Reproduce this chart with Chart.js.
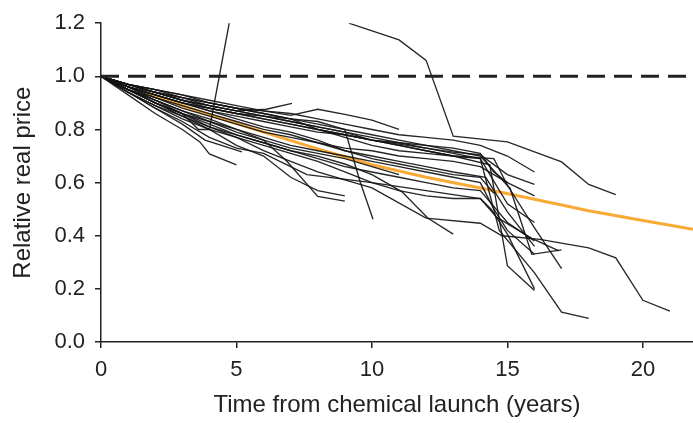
<!DOCTYPE html>
<html>
<head>
<meta charset="utf-8">
<script src="https://cdn.jsdelivr.net/npm/chart.js@4.4.1/dist/chart.umd.min.js"></script>
<style>
  html, body { margin: 0; padding: 0; background: #fff; }
  #wrap { width: 693px; height: 423px; }
</style>
</head>
<body>
<div id="wrap"><canvas id="myChart" width="693" height="423"></canvas></div>
<script>
// axis ticks
var xTicks = [0, 5, 10, 15, 20];
var yTicks = [0, 0.2, 0.4, 0.6, 0.8, 1.0, 1.2];
var xMax = 21.85;

// reference level (launch price) and fitted trend
var launchLevel = [[0, 1.0], [21.85, 1.0]];
var trend = [[1.3, 0.947], [2, 0.925], [4, 0.855], [6, 0.79], [8, 0.727], [10, 0.667], [12, 0.62], [14, 0.58], [16, 0.537], [18, 0.494], [20, 0.457], [21.85, 0.424]];

// individual chemicals (years since launch, relative real price)
var chem01 = [[0, 1], [1, 0.95], [2, 0.91], [3, 0.86], [3.6, 0.80], [4, 0.80], [4.75, 1.21]];
var chem02 = [[9.15, 1.2], [11, 1.137], [12, 1.06], [13, 0.775], [15, 0.753], [17, 0.678], [18, 0.593], [19, 0.555]];
var chem03 = [[0, 1], [1, 0.95], [2, 0.9], [3, 0.86], [4, 0.81], [5, 0.77], [6, 0.72], [7, 0.68], [8, 0.64], [9, 0.61], [10, 0.58], [12, 0.466], [14, 0.447], [14.8, 0.40], [16.2, 0.386], [18, 0.354], [19, 0.317], [20, 0.157], [21, 0.116]];
var chem04 = [[0, 1], [1, 0.97], [2, 0.94], [3, 0.92], [4, 0.89], [5, 0.87], [6, 0.85], [7, 0.83], [8, 0.81], [9, 0.79], [10, 0.77], [11, 0.75], [12, 0.73], [13, 0.71], [14, 0.69], [14.7, 0.42], [16, 0.26], [17, 0.112], [18, 0.089]];
var chem05 = [[0, 1], [1, 0.96], [2, 0.93], [3, 0.90], [4, 0.88], [5, 0.86], [6, 0.84], [7, 0.82], [8, 0.80], [9, 0.78], [10, 0.76], [11, 0.74], [12, 0.72], [13, 0.70], [14.35, 0.667], [15, 0.287], [16, 0.194]];
var chem06 = [[0, 1], [1, 0.97], [2, 0.95], [3, 0.92], [4, 0.9], [5, 0.88], [6, 0.86], [7, 0.84], [8, 0.82], [9, 0.8], [10, 0.78], [11, 0.76], [12, 0.74], [13, 0.72], [14, 0.7], [15.1, 0.578], [15.9, 0.33], [17, 0.347]];
var chem07 = [[0, 1], [1, 0.96], [2, 0.94], [3, 0.91], [4, 0.89], [5, 0.87], [6, 0.85], [7, 0.83], [8, 0.81], [9, 0.79], [10, 0.76], [11, 0.74], [12, 0.72], [13, 0.70], [14.5, 0.69], [15, 0.59], [16, 0.43], [17, 0.276]];
var chem08 = [[0, 1], [1, 0.97], [2, 0.94], [3, 0.92], [4, 0.9], [5, 0.88], [6, 0.86], [7, 0.84], [8, 0.8], [9, 0.78], [10, 0.76], [11, 0.745], [12, 0.73], [13, 0.715], [14, 0.705], [15, 0.63], [16, 0.593]];
var chem09 = [[0, 1], [1, 0.95], [2, 0.9], [3, 0.86], [4, 0.82], [5, 0.78], [6, 0.75], [7, 0.72], [8, 0.7], [9, 0.67], [10, 0.63], [11.1, 0.566], [12.07, 0.466], [13, 0.406]];
var chem10 = [[0, 1], [1, 0.96], [2, 0.93], [3, 0.9], [4, 0.88], [5, 0.86], [6, 0.85], [7, 0.84], [8, 0.83], [9, 0.8], [9.56, 0.604], [10.04, 0.462]];
var chem11 = [[0, 1], [1, 0.95], [2, 0.9], [3, 0.86], [4, 0.83], [5, 0.8], [6, 0.76], [6.86, 0.68], [8, 0.548], [9, 0.53]];
var chem12 = [[0, 1], [1, 0.93], [2, 0.86], [3, 0.8], [3.65, 0.753], [4, 0.708], [5, 0.667]];
var chem13 = [[0, 1], [1, 0.94], [2, 0.88], [3, 0.82], [3.84, 0.76], [5.2, 0.716]];
var chem14 = [[0, 1], [1, 0.97], [2, 0.94], [3, 0.91], [4, 0.89], [5, 0.87], [6.1, 0.876], [7.05, 0.898]];
var chem15 = [[0, 1], [1, 0.97], [2, 0.95], [3, 0.93], [4, 0.91], [5, 0.89], [6, 0.87], [7, 0.853], [8, 0.876], [9, 0.857], [10, 0.835], [11, 0.80]];
var chem16 = [[0, 1], [1, 0.94], [2, 0.88], [3, 0.83], [4, 0.77], [5, 0.73], [6, 0.71], [7.6, 0.63], [10, 0.60], [12, 0.57], [14, 0.54], [14.6, 0.47], [15.9, 0.39], [16.9, 0.343]];
var chem17 = [[0, 1], [1, 0.95], [2, 0.91], [3, 0.87], [4, 0.84], [5, 0.8], [6, 0.77], [7, 0.74], [8, 0.72], [9, 0.7], [10, 0.68], [11, 0.66], [12, 0.64], [13, 0.62], [14, 0.6], [14.5, 0.5], [15, 0.42], [16, 0.33]];
var chem18 = [[0, 1], [1, 0.96], [2, 0.92], [3, 0.88], [4, 0.85], [5, 0.82], [6, 0.79], [7, 0.77], [8, 0.75], [9, 0.72], [10, 0.7], [11, 0.68], [12, 0.66], [13, 0.64], [14.2, 0.62], [15, 0.49], [16, 0.36]];
var chem19 = [[0, 1], [1, 0.94], [2, 0.89], [3, 0.84], [4, 0.8], [5, 0.74], [6, 0.7], [7, 0.62], [8, 0.57], [9, 0.55]];
var chem20 = [[0, 1], [1, 0.95], [2, 0.9], [3, 0.85], [4, 0.8], [5, 0.77], [6, 0.74], [7, 0.71], [8, 0.68], [9, 0.64], [10, 0.6], [11, 0.57], [12, 0.55], [13, 0.54], [14, 0.54], [14.4, 0.5], [15, 0.406], [16, 0.2]];
var chem21 = [[0, 1], [1, 0.96], [2, 0.93], [3, 0.9], [4, 0.87], [5, 0.85], [6, 0.83], [7, 0.81], [8, 0.79], [9, 0.78], [10, 0.76], [11, 0.75], [12, 0.74], [13, 0.73], [14, 0.71], [14.5, 0.64], [15, 0.6]];
var chem22 = [[0, 1], [1, 0.95], [2, 0.92], [3, 0.89], [4, 0.86], [5, 0.83], [6, 0.8], [7, 0.78], [8, 0.75], [9, 0.73], [10, 0.72], [11, 0.7], [12, 0.69], [13, 0.68], [14, 0.66], [15, 0.6], [16, 0.55]];
var chem23 = [[0, 1], [1, 0.97], [2, 0.95], [3, 0.93], [4, 0.9], [5, 0.88], [6, 0.87], [7, 0.86], [8, 0.84], [9, 0.82], [10, 0.8], [11, 0.78], [12, 0.77], [13, 0.76], [14, 0.74], [15, 0.7], [16, 0.64]];
var chem24 = [[0, 1], [1, 0.94], [2, 0.89], [3, 0.85], [4, 0.81], [5, 0.78], [6, 0.75], [7, 0.72], [8, 0.69], [9, 0.66], [10, 0.64], [11, 0.62], [12, 0.6], [13, 0.58], [14, 0.57], [15, 0.45], [16, 0.38]];
var chem25 = [[0, 1], [1, 0.97], [2, 0.94], [3, 0.91], [4, 0.88], [5, 0.86], [6, 0.84], [7, 0.82], [8, 0.8], [9, 0.77], [10, 0.74], [11, 0.72], [12, 0.71], [13, 0.7], [14, 0.69], [15, 0.52], [16, 0.45]];
var chem26 = [[0, 1], [1, 0.96], [2, 0.93], [3, 0.9], [4, 0.87], [5, 0.84], [6, 0.81], [7, 0.79], [8, 0.76], [9, 0.72], [10, 0.69], [11, 0.67], [12, 0.65], [13, 0.63], [14, 0.62], [14.5, 0.56]];
var chem27 = [[0, 1], [1, 0.96], [2, 0.91], [3, 0.87], [4, 0.83], [5, 0.79], [6, 0.76], [7, 0.73], [8, 0.71], [9, 0.69], [10, 0.66], [11, 0.63]];

var chemicals = [chem01, chem02, chem03, chem04, chem05, chem06, chem07, chem08, chem09, chem10, chem11, chem12, chem13, chem14,
                 chem15, chem16, chem17, chem18, chem19, chem20, chem21, chem22, chem23, chem24, chem25, chem26, chem27];

function toPoints(pairs) {
    return pairs.map(function (p) { return { x: p[0], y: p[1] }; });
}

var datasets = [
    {
        data: toPoints(launchLevel),
        borderColor: '#222',
        borderWidth: 3,
        borderDash: [18, 9],
        pointRadius: 0
    }
];

chemicals.forEach(function (c) {
    datasets.push({
        data: toPoints(c),
        borderColor: 'rgba(20,20,20,0.92)',
        borderWidth: 1.35,
        pointRadius: 0
    });
});

datasets.push({
    data: toPoints(trend),
    borderColor: '#f7aa35',
    borderWidth: 3,
    pointRadius: 0
});

var tickFont = { family: 'Liberation Sans, Arial, sans-serif', size: 22 };
var titleFont = { family: 'Liberation Sans, Arial, sans-serif', size: 24 };

const config = {
    type: 'line',
    data: { datasets: datasets },
    options: {
        responsive: false,
        animation: false,
        layout: { padding: { left: 0, right: 0, top: 20, bottom: 0 } },
        plugins: {
            legend: { display: false },
            tooltip: { enabled: false }
        },
        elements: { line: { tension: 0 } },
        scales: {
            x: {
                type: 'linear',
                min: 0,
                max: xMax,
                afterBuildTicks: function (scale) {
                    scale.ticks = xTicks.map(function (v) { return { value: v }; });
                },
                afterFit: function (scale) { scale.height = 81; },
                ticks: {
                    font: tickFont,
                    color: '#222',
                    padding: 9,
                    maxRotation: 0,
                    callback: function (v) { return String(v); }
                },
                grid: { drawOnChartArea: false, drawTicks: true, tickLength: 6, color: '#222', lineWidth: 1.5 },
                border: { display: true, color: '#222', width: 1.5 },
                title: {
                    display: true,
                    text: 'Time from chemical launch (years)',
                    font: titleFont,
                    color: '#222',
                    padding: { top: 0, bottom: 3 }
                }
            },
            y: {
                min: 0,
                max: 1.2,
                afterBuildTicks: function (scale) {
                    scale.ticks = yTicks.map(function (v) { return { value: v }; });
                },
                afterFit: function (scale) { scale.width = 101; },
                ticks: {
                    font: tickFont,
                    color: '#222',
                    padding: 10,
                    callback: function (v) { return v.toFixed(1); }
                },
                grid: { drawOnChartArea: false, drawTicks: true, tickLength: 6, color: '#222', lineWidth: 1.5 },
                border: { display: true, color: '#222', width: 1.5 },
                title: {
                    display: true,
                    text: 'Relative real price',
                    font: titleFont,
                    color: '#222',
                    padding: { top: 9, bottom: 0 }
                }
            }
        }
    }
};

const myChart = new Chart(document.getElementById('myChart'), config);
</script>
</body>
</html>
